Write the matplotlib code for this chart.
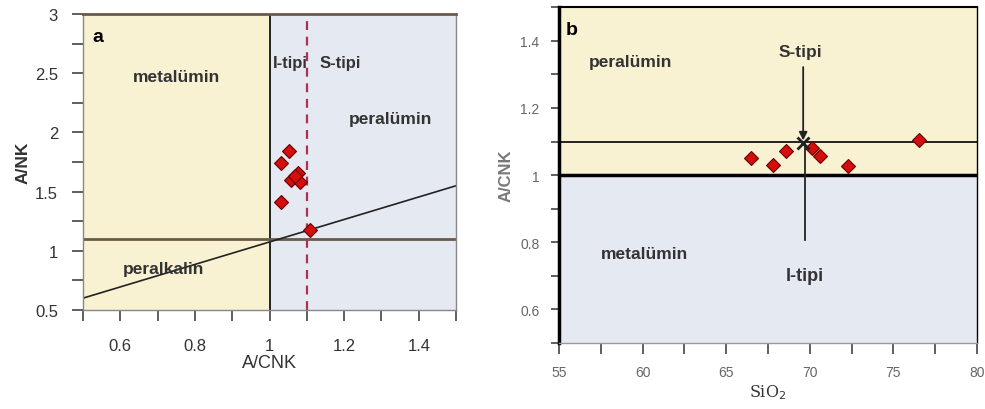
import numpy as np
import matplotlib.pyplot as plt
from matplotlib.ticker import MultipleLocator

plt.rcParams['font.family'] = ['Liberation Sans', 'DejaVu Sans']

# --- veri: (a) A/CNK - A/NK
acnk_a = [1.051, 1.031, 1.076, 1.058, 1.082, 1.068, 1.031, 1.109]
ank_a = [1.84, 1.74, 1.66, 1.60, 1.585, 1.63, 1.415, 1.18]

# --- veri: (b) SiO2 - A/CNK
sio2_b = [66.5, 67.8, 68.6, 70.1, 70.6, 72.3, 76.5]
acnk_b = [1.051, 1.031, 1.071, 1.081, 1.056, 1.026, 1.105]

# sinir cizgileri
ank_line_x = [0.5, 1.5]
ank_line_y = [0.60, 1.55]
i_s_limit = 1.1
meta_per_limit = 1.0
alk_limit = 1.1
sio2_arrow = 69.6

YELLOW = '#f8f1d2'
BLUE = '#e5e9f2'
RED = '#d40d0d'
EDGE = '#6a0000'
TXT = '#333333'

fig = plt.figure(figsize=(9.85, 4.1), dpi=100)
ax1 = fig.add_axes([0.0843, 0.2415, 0.3787, 0.7215])
ax2 = fig.add_axes([0.5675, 0.161, 0.4245, 0.819])

# ---------------- a ----------------
ax1.set_xlim(0.5, 1.5)
ax1.set_ylim(0.5, 3)
ax1.axvspan(0.5, meta_per_limit, color=YELLOW, zorder=0)
ax1.axvspan(meta_per_limit, 1.5, color=BLUE, zorder=0)
ax1.axvline(meta_per_limit, color='black', lw=1.2, zorder=2)
ax1.axhline(alk_limit, color='#6b5a4a', lw=2, zorder=2)
ax1.axvline(i_s_limit, color='#b03050', lw=1.6, ls=(0, (4, 3)), zorder=2)
ax1.plot(ank_line_x, ank_line_y, color='#222222', lw=1.2, zorder=2)
ax1.plot(acnk_a, ank_a, 'D', ms=7.5, color=RED, mec=EDGE, mew=0.8, zorder=3)

ax1.text(0.54, 2.81, 'a', fontsize=14, fontweight='bold', ha='center', va='center')
ax1.text(0.751, 2.47, 'metalümin', fontsize=12.5, fontweight='bold', ha='center', va='center', color=TXT)
ax1.text(1.055, 2.59, 'I-tipi', fontsize=12, fontweight='bold', ha='center', va='center', color=TXT)
ax1.text(1.189, 2.59, 'S-tipi', fontsize=12, fontweight='bold', ha='center', va='center', color=TXT)
ax1.text(1.323, 2.12, 'peralümin', fontsize=12.5, fontweight='bold', ha='center', va='center', color=TXT)
ax1.text(0.715, 0.85, 'peralkalin', fontsize=12.5, fontweight='bold', ha='center', va='center', color=TXT)

ax1.xaxis.set_minor_locator(MultipleLocator(0.1))
ax1.yaxis.set_minor_locator(MultipleLocator(0.25))
ax1.set_xticks([0.6, 0.8, 1.0, 1.2, 1.4])
ax1.set_xticklabels(['0.6', '0.8', '1', '1.2', '1.4'])
ax1.set_yticks([0.5, 1, 1.5, 2, 2.5, 3])
ax1.set_yticklabels(['0.5', '1', '1.5', '2', '2.5', '3'])
ax1.tick_params(which='both', direction='out', length=8, width=1.2, color='#444444',
                labelsize=12, labelcolor=TXT, pad=10)
ax1.tick_params(axis='x', which='both', pad=12)
for s in ['left', 'right', 'bottom']:
    ax1.spines[s].set_color('#888888')
    ax1.spines[s].set_linewidth(1)
ax1.spines['top'].set_color('#6b5a4a')
ax1.spines['top'].set_linewidth(2)
ax1.set_xlabel('A/CNK', fontsize=13, color=TXT, labelpad=1)
ax1.set_ylabel('A/NK', fontsize=12.5, fontweight='bold', color=TXT, labelpad=3)

# ---------------- b ----------------
ax2.set_xlim(55, 80)
ax2.set_ylim(0.5, 1.5)
ax2.axhspan(meta_per_limit, 1.5, color=YELLOW, zorder=0)
ax2.axhspan(0.5, meta_per_limit, color=BLUE, zorder=0)
ax2.axhline(meta_per_limit, color='black', lw=2.5, zorder=2)
ax2.axhline(i_s_limit, color='black', lw=1.2, zorder=2)
ax2.annotate('', xy=(sio2_arrow, 1.095), xytext=(sio2_arrow, 1.33),
             arrowprops=dict(arrowstyle='-|>', color='#222222', lw=1.3, mutation_scale=12), zorder=3)
ax2.plot([sio2_arrow + 0.1, sio2_arrow + 0.1], [1.09, 0.807], color='#222222', lw=1.3, zorder=2)
ax2.plot(sio2_b, acnk_b, 'D', ms=7.5, color=RED, mec=EDGE, mew=0.8, zorder=3)
ax2.plot([sio2_arrow], [1.095], 'x', ms=8, mew=2, color='#222222', zorder=4)

ax2.text(55.76, 1.434, 'b', fontsize=14, fontweight='bold', ha='center', va='center')
ax2.text(59.25, 1.339, 'peralümin', fontsize=12.5, fontweight='bold', ha='center', va='center', color=TXT)
ax2.text(69.41, 1.369, 'S-tipi', fontsize=12.5, fontweight='bold', ha='center', va='center', color=TXT)
ax2.text(60.14, 0.767, 'metalümin', fontsize=12.5, fontweight='bold', ha='center', va='center', color=TXT)
ax2.text(69.7, 0.70, 'I-tipi', fontsize=13, fontweight='bold', ha='center', va='center', color=TXT)

ax2.set_xticks([55, 60, 65, 70, 75, 80])
ax2.xaxis.set_minor_locator(MultipleLocator(2.5))
ax2.set_yticks([0.6, 0.8, 1.0, 1.2, 1.4])
ax2.set_yticklabels(['0.6', '0.8', '1', '1.2', '1.4'])
ax2.yaxis.set_minor_locator(MultipleLocator(0.1))
ax2.tick_params(which='both', direction='out', length=6, width=1.2, color='#444444',
                labelsize=10, labelcolor='#666666', pad=8)
ax2.tick_params(axis='x', which='both', length=8, pad=8)
ax2.spines['left'].set_linewidth(2.5)
ax2.spines['top'].set_linewidth(1.5)
ax2.spines['right'].set_linewidth(1)
ax2.spines['bottom'].set_color('#999999')
ax2.spines['bottom'].set_linewidth(1)
ax2.set_xlabel('SiO$_2$', fontsize=11.5, family='serif', color=TXT, labelpad=2)
ax2.set_ylabel('A/CNK', fontsize=12, fontweight='bold', color='#777777', labelpad=5)

fig.savefig('out.png', dpi=100)
